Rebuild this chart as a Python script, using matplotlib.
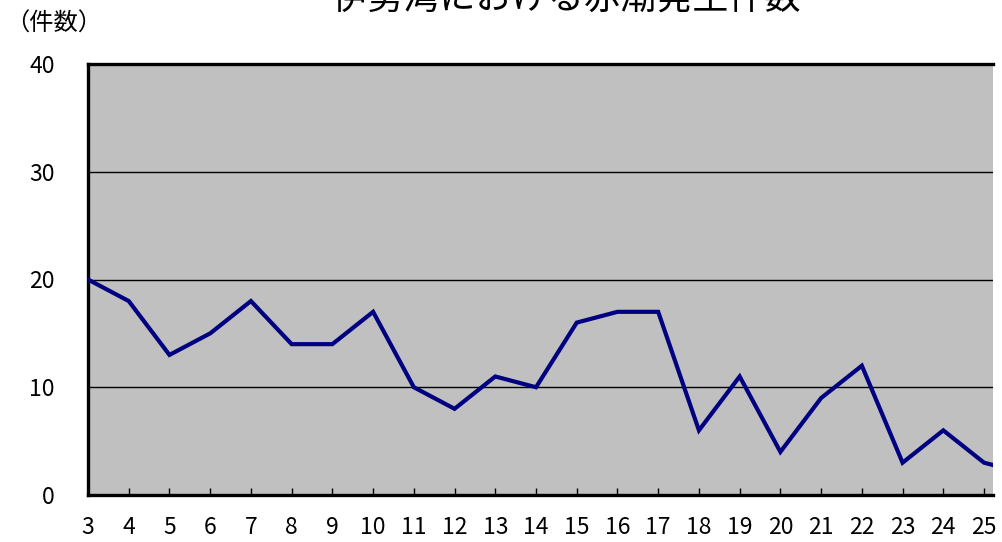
#!/usr/bin/env python3
import matplotlib
matplotlib.use('Agg')
import matplotlib.pyplot as plt

plt.rcParams['font.family'] = ['Noto Sans CJK JP', 'DejaVu Sans']

# 年度 (平成) と赤潮発生件数
years = list(range(3, 27))
counts = [20, 18, 13, 15, 18, 14, 14, 17, 10, 8, 11, 10, 16, 17, 17,
          6, 11, 4, 9, 12, 3, 6, 3, 2]
y_ticks = [0, 10, 20, 30, 40]

title = '伊勢湾における赤潮発生件数'
unit_label = '（件数）'

W, H = 1003, 542
fig = plt.figure(figsize=(W / 100, H / 100), dpi=100)
ax = fig.add_axes([88 / W, (H - 495) / H, (993 - 88) / W, (495 - 64) / H])

ax.set_facecolor('#c0c0c0')
ax.plot(years, counts, color='#000080', lw=3.0, solid_joinstyle='miter', zorder=3)

ax.set_xlim(3, 25.22)
ax.set_ylim(0, 40)
ax.set_yticks(y_ticks)
ax.set_xticks(years[:-1])
for v in y_ticks[1:-1]:
    ax.axhline(v, color='black', lw=1.0, zorder=2)

for side in ['left', 'bottom', 'top']:
    ax.spines[side].set_linewidth(2.4)
ax.spines['right'].set_visible(False)

ax.tick_params(axis='y', length=0, pad=24, labelsize=16.5)
ax.tick_params(axis='x', direction='in', length=5, width=1, pad=15, labelsize=16.5)

fig.text(566 / W, 1 - 10 / H, title, ha='center', va='baseline', fontsize=26)
fig.text(5 / W, 1 - 31 / H, unit_label, ha='left', va='baseline', fontsize=17.5)

fig.savefig('out.png', dpi=100)
